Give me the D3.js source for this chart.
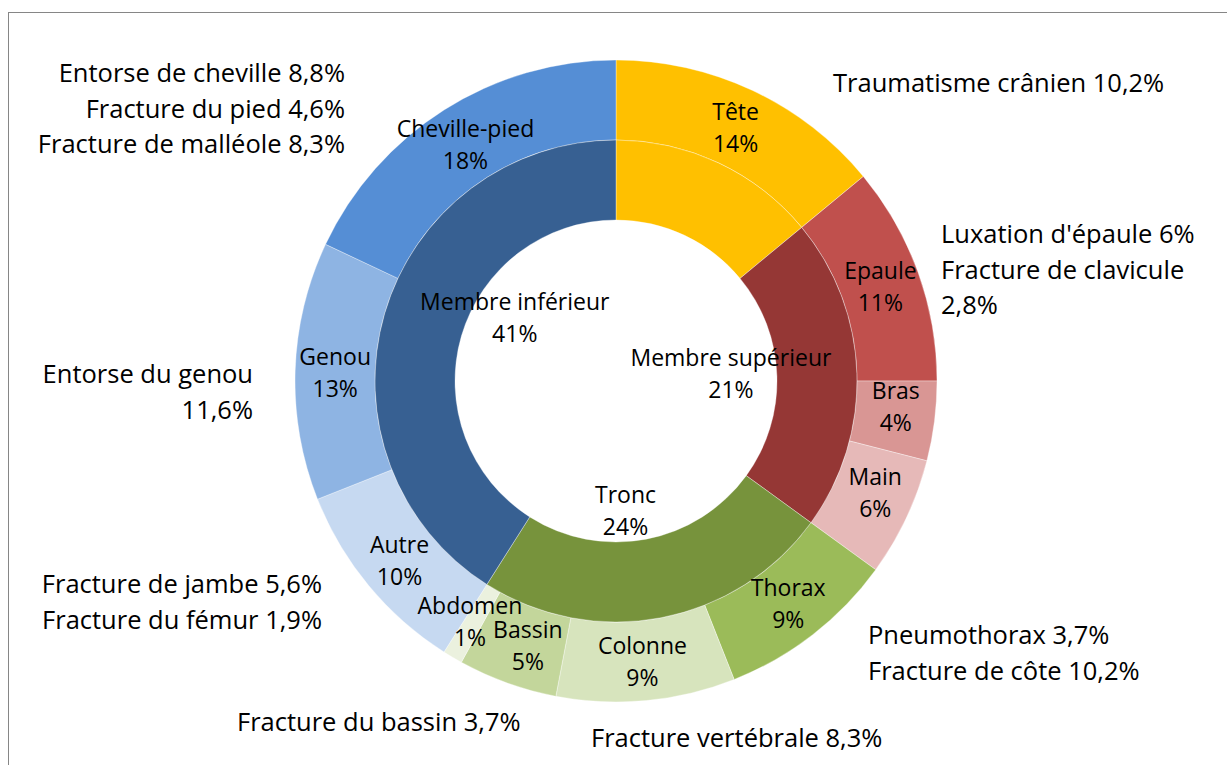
<!DOCTYPE html>
<html>
<head>
<meta charset="utf-8">
<script src="https://cdn.jsdelivr.net/npm/d3@7"></script>
<style>
  body { margin: 0; background: #fff; }
  svg { display: block; }
  text { font-family: 'Open Sans', sans-serif; fill: #000; }
</style>
</head>
<body>
<div class="canvas"></div>
<script>
// ring data
const innerNames = ['Tête', 'Membre supérieur', 'Tronc', 'Membre inférieur'];
const innerValues = [14, 21, 24, 41];
const innerColors = ['#FFC000', '#953735', '#77933C', '#376092'];

const outerNames = ['Tête', 'Epaule', 'Bras', 'Main', 'Thorax', 'Colonne',
  'Bassin', 'Abdomen', 'Autre', 'Genou', 'Cheville-pied'];
const outerValues = [14, 11, 4, 6, 9, 9, 5, 1, 10, 13, 18];
const outerColors = ['#FFC000', '#C0504D', '#D99694', '#E6B9B8', '#9BBB59',
  '#D7E4BD', '#C3D69B', '#EBF1DE', '#C6D9F1', '#8EB4E3', '#558ED5'];

// detail notes next to the ring
const noteKeys = ['Cheville-pied', 'Tête', 'Epaule', 'Genou', 'Autre', 'Bassin', 'Colonne', 'Thorax'];
const noteLines = [
  ['Entorse de cheville 8,8%', 'Fracture du pied 4,6%', 'Fracture de malléole 8,3%'],
  ['Traumatisme crânien 10,2%'],
  ["Luxation d'épaule 6%", 'Fracture de clavicule', '2,8%'],
  ['Entorse du genou', '11,6%'],
  ['Fracture de jambe 5,6%', 'Fracture du fémur 1,9%'],
  ['Fracture du bassin 3,7%'],
  ['Fracture vertébrale 8,3%'],
  ['Pneumothorax 3,7%', 'Fracture de côte 10,2%']
];

// layout
const dims = {
  width: 1227,
  height: 765,
  cx: 616,
  cy: 381,
  hole: 161,
  mid: 241,
  outer: 321,
  labelR: 281,
  labelFS: 23,
  noteFS: 25.5,
  labelLH: 32,
  noteLH: 35.5
};

// where each note block sits (anchor x, first line y, text-anchor)
const notePos = {
  'Cheville-pied': [345, 72, 'end'],
  'Tête': [833, 82, 'start'],
  'Epaule': [941, 233, 'start'],
  'Genou': [253, 373, 'end'],
  'Autre': [322, 583, 'end'],
  'Bassin': [237, 721, 'start'],
  'Colonne': [591, 737, 'start'],
  'Thorax': [868, 634, 'start']
};

// small shifts of some outer labels, as placed in the original
const outerNudge = {
  'Bras': [1, -10],
  'Main': [5, -9],
  'Bassin': [7, 0],
  'Abdomen': [-3, -2]
};

// inner labels sit towards the hole, with small nudges as in the original
const innerLabelR = 120;
const innerNudge = {
  'Membre supérieur': [-5, -4],
  'Tronc': [-13, 11],
  'Membre inférieur': [14, -31]
};

const svg = d3.select('.canvas')
  .append('svg')
  .attr('width', dims.width)
  .attr('height', dims.height);

// chart frame
svg.append('rect')
  .attr('x', 8.5)
  .attr('y', 12.5)
  .attr('width', dims.width)
  .attr('height', dims.height)
  .attr('fill', 'none')
  .attr('stroke', '#868686')
  .attr('stroke-width', 1);

const graph = svg.append('g')
  .attr('transform', `translate(${dims.cx}, ${dims.cy})`);

const pie = d3.pie().sort(null).value((d) => d.value);

const innerData = pie(innerNames.map((n, i) => ({ name: n, value: innerValues[i], color: innerColors[i] })));
const outerData = pie(outerNames.map((n, i) => ({ name: n, value: outerValues[i], color: outerColors[i] })));

const innerArc = d3.arc().innerRadius(dims.hole).outerRadius(dims.mid);
const outerArc = d3.arc().innerRadius(dims.mid).outerRadius(dims.outer);
const outerLabelArc = d3.arc().innerRadius(dims.labelR).outerRadius(dims.labelR);

graph.selectAll('path.outer')
  .data(outerData)
  .enter()
  .append('path')
  .attr('class', 'outer')
  .attr('d', outerArc)
  .attr('fill', (d) => d.data.color)
  .attr('stroke', 'rgba(255,255,255,0.5)')
  .attr('stroke-width', 0.7);

graph.selectAll('path.inner')
  .data(innerData)
  .enter()
  .append('path')
  .attr('class', 'inner')
  .attr('d', innerArc)
  .attr('fill', (d) => d.data.color)
  .attr('stroke', 'rgba(255,255,255,0.5)')
  .attr('stroke-width', 0.7);

// two-line label helper
function twoLines(sel, name, pct, x, y) {
  const t = sel.append('text')
    .attr('text-anchor', 'middle')
    .attr('font-size', dims.labelFS)
    .attr('dominant-baseline', 'central');
  t.append('tspan').attr('x', x).attr('y', y - dims.labelLH / 2).text(name);
  t.append('tspan').attr('x', x).attr('y', y + dims.labelLH / 2).text(pct + '%');
}

outerData.forEach((d) => {
  const [x, y] = outerLabelArc.centroid(d);
  const nudge = outerNudge[d.data.name] || [0, 0];
  twoLines(graph, d.data.name, d.data.value, x + nudge[0], y + nudge[1]);
});

innerData.forEach((d) => {
  const nudge = innerNudge[d.data.name];
  if (!nudge) return; // no label for the head slice in the inner ring
  const a = (d.startAngle + d.endAngle) / 2;
  const x = innerLabelR * Math.sin(a) + nudge[0];
  const y = -innerLabelR * Math.cos(a) + nudge[1];
  twoLines(graph, d.data.name, d.data.value, x, y);
});

// detail notes
noteKeys.forEach((k, i) => {
  const [x, y, anchor] = notePos[k];
  const t = svg.append('text')
    .attr('text-anchor', anchor)
    .attr('font-size', dims.noteFS)
    .attr('dominant-baseline', 'central');
  noteLines[i].forEach((line, j) => {
    t.append('tspan').attr('x', x).attr('y', y + j * dims.noteLH).text(line);
  });
});
</script>
</body>
</html>
